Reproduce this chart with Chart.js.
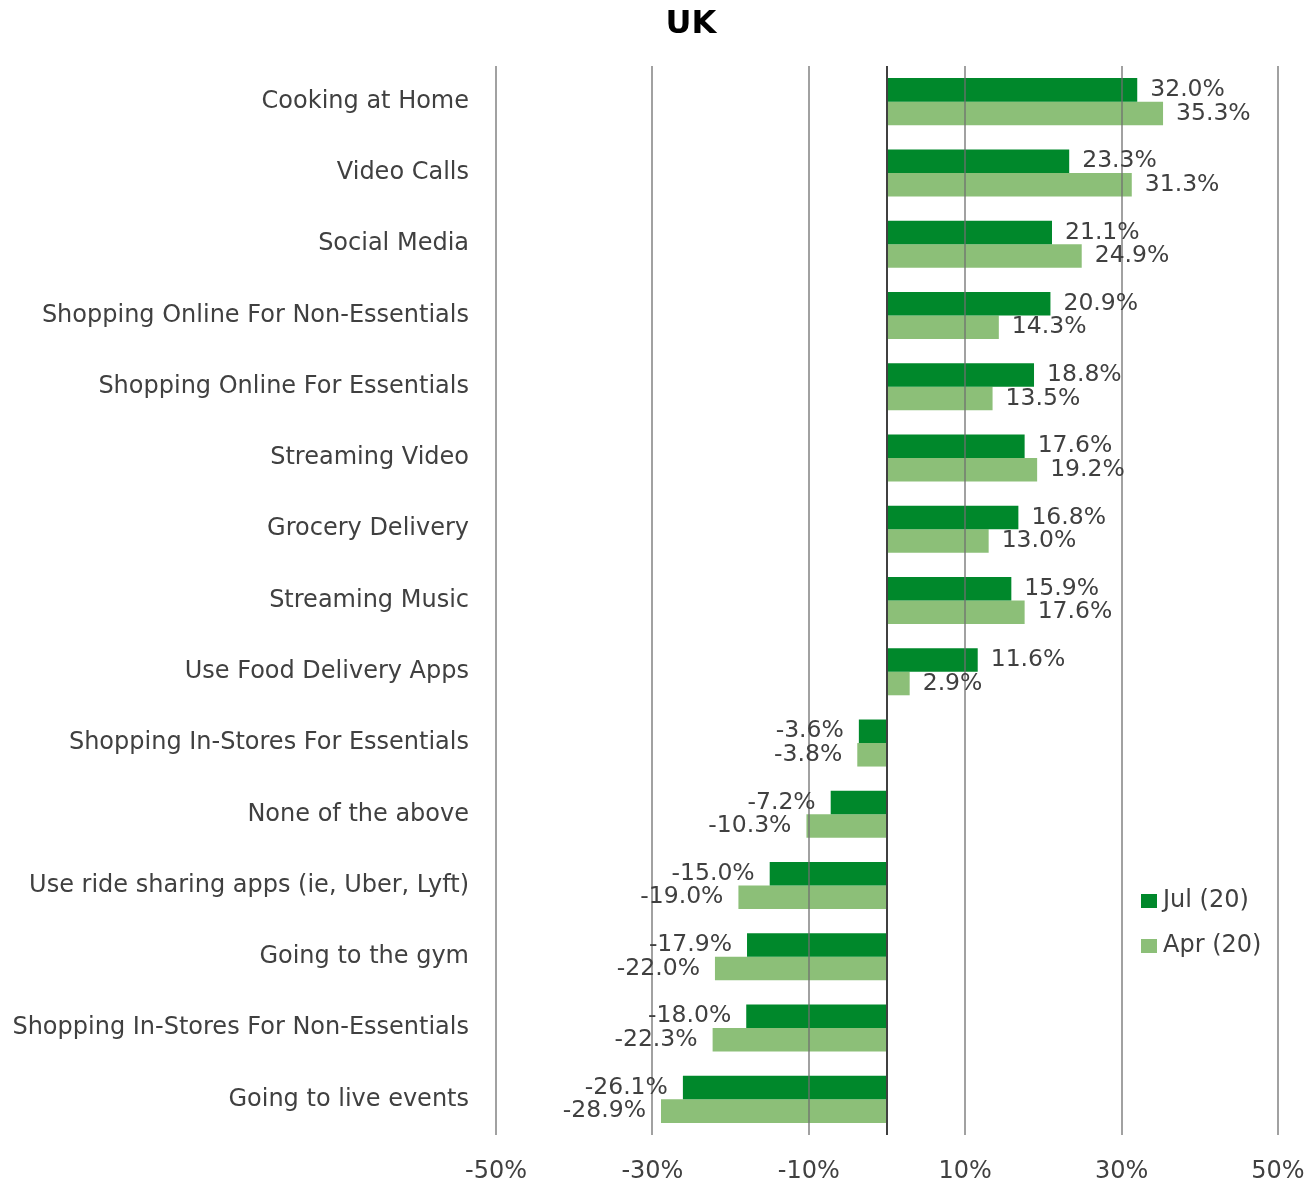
<!DOCTYPE html>
<html>
<head>
<meta charset="utf-8">
<script src="https://cdn.jsdelivr.net/npm/chart.js@4.4.1/dist/chart.umd.min.js"></script>
<style>
  html, body { margin: 0; padding: 0; background: #fff; }
  #wrap { width: 1308px; height: 1185px; }
</style>
</head>
<body>
<div id="wrap"><canvas id="grafico"></canvas></div>
<script>
// datos
var categorias = [
  "Cooking at Home",
  "Video Calls",
  "Social Media",
  "Shopping Online For Non-Essentials",
  "Shopping Online For Essentials",
  "Streaming Video",
  "Grocery Delivery",
  "Streaming Music",
  "Use Food Delivery Apps",
  "Shopping In-Stores For Essentials",
  "None of the above",
  "Use ride sharing apps (ie, Uber, Lyft)",
  "Going to the gym",
  "Shopping In-Stores For Non-Essentials",
  "Going to live events"
];
var julio = [32.0, 23.3, 21.1, 20.9, 18.8, 17.6, 16.8, 15.9, 11.6, -3.6, -7.2, -15.0, -17.9, -18.0, -26.1];
var abril = [35.3, 31.3, 24.9, 14.3, 13.5, 19.2, 13.0, 17.6, 2.9, -3.8, -10.3, -19.0, -22.0, -22.3, -28.9];
var ticksX = [-50, -30, -10, 10, 30, 50];
var titulo = "UK";

var fuente = "'DejaVu Sans', Verdana, sans-serif";
var gris = "#404040";

// titulo (centrado como en el original)
var tituloPlugin = {
  id: "tituloPlugin",
  afterDraw: function(chart) {
    var ctx = chart.ctx;
    ctx.save();
    ctx.font = "bold 32px " + fuente;
    ctx.fillStyle = "#000";
    ctx.textAlign = "center";
    ctx.textBaseline = "middle";
    ctx.fillText(titulo, 691, 25);
    ctx.restore();
  }
};

// linea del cero
var lineaCero = {
  id: "lineaCero",
  afterDatasetsDraw: function(chart) {
    var ctx = chart.ctx, area = chart.chartArea;
    var x = chart.scales.x.getPixelForValue(0);
    ctx.save();
    ctx.strokeStyle = "#404040";
    ctx.lineWidth = 2;
    ctx.beginPath();
    ctx.moveTo(x, area.top);
    ctx.lineTo(x, area.bottom);
    ctx.stroke();
    ctx.restore();
  }
};

// etiquetas de valores
var etiquetas = {
  id: "etiquetas",
  afterDraw: function(chart) {
    var ctx = chart.ctx;
    ctx.save();
    ctx.font = "23.5px " + fuente;
    ctx.fillStyle = gris;
    ctx.textBaseline = "middle";
    chart.data.datasets.forEach(function(ds, i) {
      var meta = chart.getDatasetMeta(i);
      meta.data.forEach(function(bar, j) {
        var v = ds.data[j];
        if (v >= 0) {
          ctx.textAlign = "left";
          ctx.fillText(v.toFixed(1) + "%", bar.x + 13, bar.y);
        } else {
          ctx.textAlign = "right";
          ctx.fillText(v.toFixed(1) + "%", bar.x - 15, bar.y);
        }
      });
    });
    ctx.restore();
  }
};

// leyenda dentro del area
var leyenda = {
  id: "leyenda",
  afterDraw: function(chart) {
    var ctx = chart.ctx;
    var x0 = 1141, y0 = 901, paso = 45;
    ctx.save();
    ctx.font = "24px " + fuente;
    ctx.textBaseline = "middle";
    ctx.textAlign = "left";
    chart.data.datasets.forEach(function(ds, i) {
      var y = y0 + i * paso;
      ctx.fillStyle = ds.backgroundColor;
      ctx.fillRect(x0, y - 7, 16, 14);
      ctx.fillStyle = gris;
      ctx.fillText(ds.label, x0 + 22, y);
    });
    ctx.restore();
  }
};

new Chart(document.getElementById("grafico"), {
  type: "bar",
  data: {
    labels: categorias,
    datasets: [
      { label: "Jul (20)", data: julio, backgroundColor: "#00882B", borderWidth: 0 },
      { label: "Apr (20)", data: abril, backgroundColor: "#8CBF78", borderWidth: 0 }
    ]
  },
  options: {
    indexAxis: "y",
    responsive: true,
    maintainAspectRatio: false,
    animation: false,
    layout: { padding: { left: 0, right: 30, top: 66, bottom: 0 } },
    categoryPercentage: 0.66,
    barPercentage: 1,
    plugins: {
      legend: { display: false },
      tooltip: { enabled: false },
      title: { display: false }
    },
    scales: {
      x: {
        min: -50,
        max: 50,
        afterBuildTicks: function(scale) {
          scale.ticks = ticksX.map(function(v) { return { value: v }; });
        },
        afterFit: function(scale) {
          scale.height = 50;
          scale.paddingLeft = 0;
          scale.paddingRight = 0;
        },
        grid: { color: "rgba(110,110,110,0.65)", lineWidth: 2, drawTicks: false, z: 1 },
        border: { display: false },
        ticks: {
          color: gris,
          padding: 22,
          maxRotation: 0,
          font: { family: fuente, size: 24 },
          callback: function(v) { return v + "%"; }
        }
      },
      y: {
        grid: { display: false, drawTicks: false },
        border: { display: false },
        afterFit: function(scale) {
          scale.width = 496;
          scale.paddingTop = 0;
          scale.paddingBottom = 0;
        },
        ticks: {
          color: gris,
          padding: 27,
          autoSkip: false,
          font: { family: fuente, size: 24 }
        }
      }
    }
  },
  plugins: [lineaCero, etiquetas, leyenda, tituloPlugin]
});
</script>
</body>
</html>
